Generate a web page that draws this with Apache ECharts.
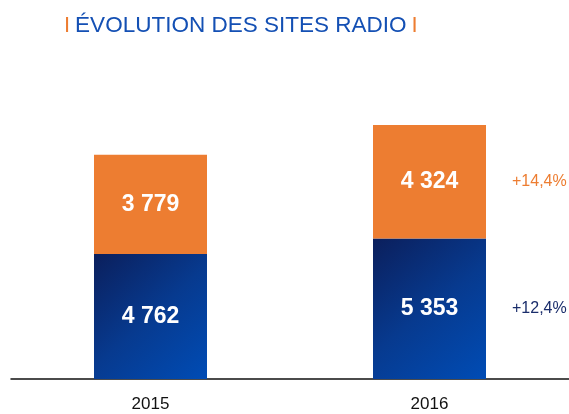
<!DOCTYPE html>
<html><head><meta charset="utf-8">
<script src="https://cdn.jsdelivr.net/npm/echarts@6/dist/echarts.min.js"></script>
<style>html,body{margin:0;padding:0;background:#fff}#c{width:569px;height:414px}</style>
</head><body><div id="c"></div>
<script>
const categories = ['2015', '2016'];
const blueValues = [4762, 5353];
const orangeValues = [3779, 4324];
const bluePct = ['', '+12,4%'];
const orangePct = ['', '+14,4%'];
const titleText = 'ÉVOLUTION DES SITES RADIO';

const FONT = '"Liberation Sans", Arial, sans-serif';
const fmt = v => String(v).replace(/\B(?=(\d{3})+(?!\d))/g, ' ');
const blueGrad = new echarts.graphic.LinearGradient(0, 0, 1, 1, [
  {offset: 0, color: '#0b1f5c'}, {offset: 0.5, color: '#073a8f'}, {offset: 1, color: '#004cb5'}
]);
const chart = echarts.init(document.getElementById('c'));
chart.setOption({
  animation: false,
  title: {
    text: '{bar|I} {t|' + titleText + '} {bar|I}',
    left: 59, top: 9,
    textStyle: {
      fontWeight: 'normal',
      rich: {
        bar: {color: '#ed7d31', fontSize: 22, fontWeight: 'normal', fontFamily: FONT},
        t: {color: '#1450b4', fontSize: 22.5, fontWeight: 'normal', fontFamily: FONT}
      }
    }
  },
  grid: {left: 11, right: 0, top: 116.5, bottom: 35},
  xAxis: {
    type: 'category', data: categories,
    axisLine: {lineStyle: {color: '#111', width: 1.5}},
    axisTick: {show: false},
    axisLabel: {color: '#111', fontSize: 17, fontFamily: FONT, margin: 17}
  },
  yAxis: {type: 'value', min: 0, max: 10000, show: false, splitLine: {show: false}},
  series: [
    {type: 'bar', stack: 'a', barWidth: 113, data: blueValues,
     itemStyle: {color: blueGrad},
     label: {show: true, position: 'inside', color: '#fff', fontSize: 23, fontWeight: 'bold', fontFamily: FONT, formatter: p => fmt(p.value)}},
    {type: 'bar', stack: 'a', barWidth: 113, data: orangeValues,
     itemStyle: {color: '#ed7d31'},
     label: {show: true, position: 'inside', color: '#fff', fontSize: 23, fontWeight: 'bold', fontFamily: FONT, formatter: p => fmt(p.value)}},
    {type: 'bar', stack: 'b', barWidth: 113, barGap: '-100%', data: blueValues,
     itemStyle: {color: 'rgba(0,0,0,0)'}, silent: true,
     label: {show: true, position: 'right', distance: 26, color: '#1a2d6b', fontSize: 16, fontFamily: FONT, formatter: p => bluePct[p.dataIndex]}},
    {type: 'bar', stack: 'b', barWidth: 113, barGap: '-100%', data: orangeValues,
     itemStyle: {color: 'rgba(0,0,0,0)'}, silent: true,
     label: {show: true, position: 'right', distance: 26, color: '#ed7d31', fontSize: 16, fontFamily: FONT, formatter: p => orangePct[p.dataIndex]}}
  ]
});
</script></body></html>
